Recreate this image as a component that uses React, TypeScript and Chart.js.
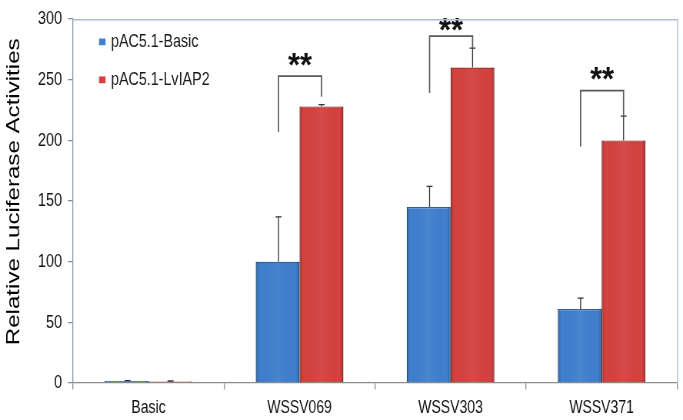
import { useEffect, useRef } from 'react';
import { Chart, registerables } from 'chart.js';

Chart.register(...registerables);

// ---------- data ----------
const categories = ['Basic', 'WSSV069', 'WSSV303', 'WSSV371'];
const seriesNames = ['pAC5.1-Basic', 'pAC5.1-LvIAP2'];
const basicValues = [1.5, 100, 145, 61];
const basicErrors = [0.4, 37, 17, 9];
const lvValues = [1.2, 228, 260, 200];
const lvErrors = [0.4, 1.5, 16, 20];
const yTicksMin = 0;
const yTicksMax = 300;
const yTickStep = 50;
const yTitle = 'Relative Luciferase Activities';
// significance brackets (value units): left leg bottom, top, right leg bottom, star centre
const bracketLeft = [null, 207, 239, 195];
const bracketTop = [null, 253, 286, 241];
const bracketRight = [null, 236, 276, 219];
const starValue = [null, 263, 292, 251];
const starLabel = '**';

// ---------- geometry ----------
const W = 683;
const H_SCREEN = 420;
const H = 323;
const DPR = H_SCREEN / H;
const FONT = "'Liberation Sans', Arial, sans-serif";
const BLUE = '#3f7fcd';
const BLUE_DARK = '#2d5f9e';
const RED = '#d3423f';
const RED_DARK = '#a93331';

export default function App() {
  const ref = useRef<HTMLCanvasElement>(null);

  useEffect(() => {
    document.body.style.margin = '0';
    const canvas = ref.current!;

    const overlay = {
      id: 'overlay',
      afterDatasetsDraw(chart: any) {
        const ctx = chart.ctx as CanvasRenderingContext2D;
        const y = chart.scales.y;
        const errs = [basicErrors, lvErrors];
        const vals = [basicValues, lvValues];
        // bevel shading on bars
        chart.data.datasets.forEach((_: any, di: number) => {
          const meta = chart.getDatasetMeta(di);
          meta.data.forEach((el: any) => {
            const left = el.x - el.width / 2;
            const top = Math.min(el.y, el.base);
            const h = Math.abs(el.base - el.y);
            const g = ctx.createLinearGradient(left, 0, left + el.width, 0);
            g.addColorStop(0, 'rgba(0,0,0,0.22)');
            g.addColorStop(0.08, 'rgba(0,0,0,0.0)');
            g.addColorStop(0.5, 'rgba(255,255,255,0.05)');
            g.addColorStop(0.92, 'rgba(0,0,0,0.0)');
            g.addColorStop(1, 'rgba(0,0,0,0.25)');
            ctx.save();
            ctx.fillStyle = g;
            ctx.fillRect(left, top, el.width, h);
            ctx.restore();
          });
        });
        // error bars
        ctx.save();
        ctx.strokeStyle = '#333';
        ctx.lineWidth = 1;
        chart.data.datasets.forEach((_: any, di: number) => {
          const meta = chart.getDatasetMeta(di);
          meta.data.forEach((el: any, i: number) => {
            const v = vals[di][i];
            const e = errs[di][i];
            const y0 = y.getPixelForValue(v);
            const y1 = y.getPixelForValue(v + e);
            const x = Math.round(el.x) + 0.5;
            ctx.beginPath();
            ctx.moveTo(x, y0);
            ctx.lineTo(x, y1);
            ctx.moveTo(x - 3, y1);
            ctx.lineTo(x + 3, y1);
            ctx.stroke();
          });
        });
        ctx.restore();
        // significance brackets
        const m0 = chart.getDatasetMeta(0);
        const m1 = chart.getDatasetMeta(1);
        ctx.save();
        ctx.strokeStyle = '#5a5a5a';
        ctx.lineWidth = 1.3;
        categories.forEach((_, i) => {
          const l = bracketLeft[i];
          const t = bracketTop[i];
          const r = bracketRight[i];
          const s = starValue[i];
          if (l == null || t == null || r == null || s == null) return;
          const xl = Math.round(m0.data[i].x) + 0.5;
          const xr = Math.round(m1.data[i].x) + 0.5;
          ctx.beginPath();
          ctx.moveTo(xl, y.getPixelForValue(l));
          ctx.lineTo(xl, y.getPixelForValue(t));
          ctx.lineTo(xr, y.getPixelForValue(t));
          ctx.lineTo(xr, y.getPixelForValue(r));
          ctx.stroke();
          // stars
          const fs = 26;
          ctx.save();
          ctx.fillStyle = '#111';
          ctx.font = `bold ${fs}px ${FONT}`;
          ctx.textAlign = 'center';
          ctx.textBaseline = 'alphabetic';
          const cx = (xl + xr) / 2;
          const cy = y.getPixelForValue(s);
          const tw = ctx.measureText(starLabel).width;
          ctx.translate(cx, cy + fs * 0.35);
          ctx.scale(24 / tw, 1);
          ctx.fillText(starLabel, 0, 0);
          ctx.restore();
        });
        ctx.restore();
      },
      afterDraw(chart: any) {
        const ctx = chart.ctx as CanvasRenderingContext2D;
        const a = chart.chartArea;
        // light box lines (top, right)
        ctx.save();
        ctx.strokeStyle = '#a9bdd4';
        ctx.lineWidth = 1;
        ctx.beginPath();
        ctx.moveTo(a.left, a.top + 0.5);
        ctx.lineTo(a.right + 0.5, a.top + 0.5);
        ctx.lineTo(a.right + 0.5, a.bottom);
        ctx.stroke();
        ctx.restore();
        // legend
        const items = [
          { name: seriesNames[0], c: BLUE, y: 32.3 },
          { name: seriesNames[1], c: RED, y: 61.5 },
        ];
        ctx.save();
        items.forEach((it) => {
          ctx.fillStyle = it.c;
          ctx.fillRect(99, it.y - 2.7, 6.5, 5.2);
          ctx.fillStyle = '#1a1a1a';
          ctx.font = `14.3px ${FONT}`;
          ctx.textAlign = 'left';
          ctx.textBaseline = 'middle';
          ctx.fillText(it.name, 111, it.y);
        });
        ctx.restore();
        // y-axis title
        ctx.save();
        ctx.fillStyle = '#000';
        ctx.font = `18.5px ${FONT}`;
        ctx.textAlign = 'center';
        ctx.textBaseline = 'middle';
        ctx.translate(14.5, 147.5);
        ctx.rotate(-Math.PI / 2);
        const tw = ctx.measureText(yTitle).width;
        ctx.scale(236 / tw, 1);
        ctx.fillText(yTitle, 0, 0);
        ctx.restore();
      },
    };

    const chart = new Chart(canvas, {
      type: 'bar',
      data: {
        labels: categories,
        datasets: [
          {
            label: seriesNames[0],
            data: basicValues,
            backgroundColor: BLUE,
            borderColor: BLUE_DARK,
            borderWidth: 1,
            categoryPercentage: 0.58,
            barPercentage: 1,
          },
          {
            label: seriesNames[1],
            data: lvValues,
            backgroundColor: RED,
            borderColor: RED_DARK,
            borderWidth: 1,
            categoryPercentage: 0.58,
            barPercentage: 1,
          },
        ],
      },
      options: {
        responsive: false,
        animation: false,
        devicePixelRatio: DPR,
        layout: { padding: { top: 10, right: 6, left: 0, bottom: 0 } },
        plugins: {
          legend: { display: false },
          tooltip: { enabled: false },
          title: { display: false },
        },
        scales: {
          x: {
            grid: { drawOnChartArea: false, drawTicks: true, tickLength: 5, color: '#8c8c8c', offset: true },
            border: { color: '#8c8c8c', width: 1 },
            ticks: { font: { family: FONT, size: 14 }, color: '#111', padding: 6 },
            afterFit: (s: any) => {
              s.height = 28.5;
            },
          },
          y: {
            min: yTicksMin,
            max: yTicksMax,
            grid: { drawOnChartArea: false, drawTicks: true, tickLength: 5, color: '#8c8c8c' },
            border: { color: '#8b9cb3', width: 1 },
            ticks: { stepSize: yTickStep, font: { family: FONT, size: 14.5 }, color: '#111', padding: 6 },
            afterFit: (s: any) => {
              s.width = 73;
            },
          },
        },
      },
      plugins: [overlay],
    } as any);

    return () => chart.destroy();
  }, []);

  return (
    <canvas
      ref={ref}
      width={W}
      height={H}
      style={{ display: 'block', width: W + 'px', height: H_SCREEN + 'px' }}
    />
  );
}
